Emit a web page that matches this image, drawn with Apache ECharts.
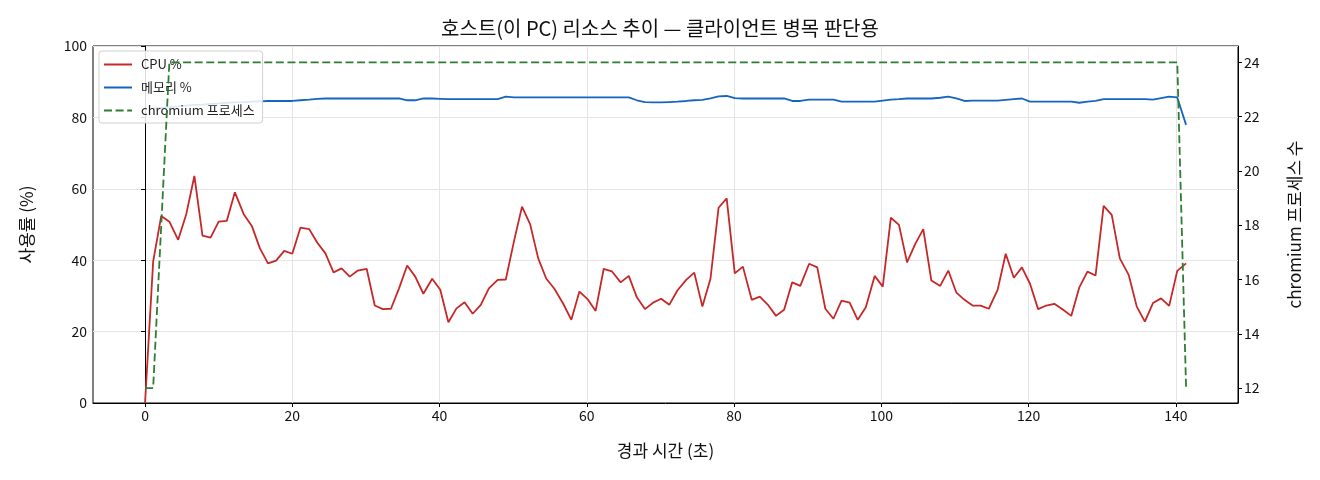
<!DOCTYPE html>
<html><head><meta charset="utf-8">
<script src="https://cdn.jsdelivr.net/npm/echarts@6/dist/echarts.min.js"></script>
<style>html,body{margin:0;padding:0;background:#fff}#c{width:1320px;height:480px}</style>
</head><body><div id="c"></div>
<script>
const times = [0,1.1,2.2,3.3,4.5,5.6,6.7,7.8,8.9,10.0,11.1,12.2,13.4,14.5,15.6,16.7,17.8,18.9,20.0,21.1,
22.3,23.4,24.5,25.6,26.7,27.8,28.9,30.1,31.2,32.3,33.4,34.5,35.6,36.7,37.8,39.0,40.1,41.2,42.3,43.4,
44.5,45.6,46.7,47.9,49.0,50.1,51.2,52.3,53.4,54.5,55.6,56.8,57.9,59.0,60.1,61.2,62.3,63.4,64.6,65.7,
66.8,67.9,69.0,70.1,71.2,72.3,73.5,74.6,75.7,76.8,77.9,79.0,80.1,81.2,82.4,83.5,84.6,85.7,86.8,87.9,
89.0,90.2,91.3,92.4,93.5,94.6,95.7,96.8,97.9,99.1,100.2,101.3,102.4,103.5,104.6,105.7,106.8,108.0,109.1,110.2,
111.3,112.4,113.5,114.6,115.8,116.9,118.0,119.1,120.2,121.3,122.4,123.5,124.7,125.8,126.9,128.0,129.1,130.2,131.3,132.4,
133.6,134.7,135.8,136.9,138.0,139.1,140.2,141.4];
const cpu = [0,39.6,52.4,50.8,45.7,52.9,63.6,46.9,46.3,50.8,
51.0,59.0,52.9,49.6,43.3,39.1,39.9,42.6,41.8,49.1,
48.7,44.9,41.9,36.6,37.7,35.4,37.1,37.6,27.3,26.3,
26.4,32.1,38.5,35.4,30.6,34.8,31.7,22.6,26.5,28.2,
25.0,27.5,32.1,34.5,34.6,45.2,55.0,50.1,40.5,34.8,
32.0,27.8,23.3,31.2,29.1,25.8,37.6,36.9,33.8,35.6,
29.6,26.3,28.1,29.2,27.5,31.5,34.5,36.5,27.0,34.8,
54.7,57.3,36.3,38.2,28.9,29.8,27.5,24.4,26.1,33.8,
32.8,39.0,38.0,26.4,23.6,28.7,28.1,23.3,26.8,35.6,
32.6,51.9,49.9,39.4,44.5,48.7,34.3,32.8,37.1,30.9,
28.9,27.3,27.3,26.4,31.7,41.8,35.1,38.0,33.4,26.3,
27.3,27.8,26.1,24.4,32.4,36.8,35.7,55.2,52.7,40.5,
35.9,27.0,22.8,28.0,29.3,27.2,37.0,39.1];
const mem = [null,82.5,82.7,82.9,83.1,83.3,83.5,83.6,83.8,83.9,
84.1,84.2,84.3,84.4,84.5,84.6,84.6,84.6,84.6,84.8,
85.0,85.2,85.3,85.3,85.3,85.3,85.3,85.3,85.3,85.3,
85.3,85.3,84.8,84.8,85.3,85.3,85.2,85.1,85.1,85.1,
85.1,85.1,85.1,85.1,85.8,85.6,85.6,85.6,85.6,85.6,
85.6,85.6,85.6,85.6,85.6,85.6,85.6,85.6,85.6,85.6,
84.8,84.3,84.2,84.2,84.3,84.4,84.6,84.8,84.9,85.3,
85.9,86.0,85.4,85.3,85.3,85.3,85.3,85.3,85.3,84.6,
84.6,85.0,85.0,85.0,85.0,84.4,84.4,84.4,84.4,84.4,
84.7,85.0,85.1,85.3,85.3,85.3,85.3,85.5,85.8,85.3,
84.6,84.7,84.7,84.7,84.7,84.9,85.1,85.3,84.4,84.4,
84.4,84.4,84.4,84.4,84.1,84.4,84.6,85.1,85.1,85.1,
85.1,85.1,85.1,85.0,85.4,85.8,85.6,77.9];
const procs = [12,12,18,24,24,24,24,24,24,24,
24,24,24,24,24,24,24,24,24,24,
24,24,24,24,24,24,24,24,24,24,
24,24,24,24,24,24,24,24,24,24,
24,24,24,24,24,24,24,24,24,24,
24,24,24,24,24,24,24,24,24,24,
24,24,24,24,24,24,24,24,24,24,
24,24,24,24,24,24,24,24,24,24,
24,24,24,24,24,24,24,24,24,24,
24,24,24,24,24,24,24,24,24,24,
24,24,24,24,24,24,24,24,24,24,
24,24,24,24,24,24,24,24,24,24,
24,24,24,24,24,24,24,12];
const xTicks = [0, 20, 40, 60, 80, 100, 120, 140];
const yLeftTicks = [0, 20, 40, 60, 80, 100];
const yRightTicks = [12, 14, 16, 18, 20, 22, 24];
const seriesNames = ['CPU %', '메모리 %', 'chromium 프로세스'];
const titleText = '호스트(이 PC) 리소스 추이 — 클라이언트 병목 판단용';
const xName = '경과 시간 (초)';
const yLeftName = '사용률 (%)';
const yRightName = 'chromium 프로세스 수';

const F = 'Noto Sans CJK KR, Noto Sans, sans-serif';
const pair = (arr) => times.map((t, i) => [t, arr[i]]);
const solidIcon = 'path://M0,0h28v2h-28z';
const dashIcon = 'path://M0,0h8v2h-8zM11.6,0h8v2h-8zM23.2,0h4.8v2h-4.8z';
const chart = echarts.init(document.getElementById('c'), null, {renderer: 'canvas'});
chart.setOption({
  animation: false,
  backgroundColor: '#fff',
  textStyle: {fontFamily: F},
  title: {text: titleText, left: 'center', top: 13,
    textStyle: {fontFamily: F, fontSize: 20, fontWeight: 'normal', color: '#111'}},
  legend: {
    orient: 'vertical', left: 99, top: 51,
    padding: [7, 8, 6, 5], itemGap: 10, itemWidth: 28, itemHeight: 14,
    backgroundColor: 'rgba(255,255,255,0.85)', borderColor: '#d0d0d0', borderWidth: 1, borderRadius: 3,
    textStyle: {fontFamily: F, fontSize: 13, color: '#222', padding: [0, 0, 0, 4]},
    data: [
      {name: seriesNames[0], icon: solidIcon},
      {name: seriesNames[1], icon: solidIcon},
      {name: seriesNames[2], icon: dashIcon}
    ]
  },
  grid: {left: 93, right: 82, top: 46, bottom: 77, show: true, borderColor: '#000', borderWidth: 1, backgroundColor: 'transparent'},
  xAxis: {
    type: 'value', min: -7.07, max: 148.45,
    name: xName, nameLocation: 'middle', nameGap: 39,
    nameTextStyle: {fontFamily: F, fontSize: 17, color: '#111'},
    axisLine: {show: true, onZero: false, lineStyle: {color: '#000', width: 1}},
    axisTick: {show: true, length: 4, customValues: xTicks, lineStyle: {color: '#000'}},
    axisLabel: {customValues: xTicks, fontFamily: F, fontSize: 14, color: '#111', margin: 6},
    splitLine: {show: true, lineStyle: {color: '#e5e5e5', width: 1}}
  },
  yAxis: [{
    type: 'value', min: 0, max: 100, interval: 20, position: 'left',
    name: yLeftName, nameLocation: 'middle', nameGap: 58, nameRotate: 90,
    nameTextStyle: {fontFamily: F, fontSize: 17, color: '#111'},
    axisLine: {show: true, lineStyle: {color: '#000', width: 1}},
    axisTick: {show: true, length: 4, customValues: yLeftTicks, lineStyle: {color: '#000'}},
    axisLabel: {customValues: yLeftTicks, fontFamily: F, fontSize: 14, color: '#111', margin: 6},
    splitLine: {show: true, lineStyle: {color: '#e5e5e5', width: 1}}
  }, {
    type: 'value', min: 11.45, max: 24.6, position: 'right', alignTicks: false,
    name: yRightName, nameLocation: 'middle', nameGap: 48, nameRotate: 90,
    nameTextStyle: {fontFamily: F, fontSize: 17, color: '#111'},
    axisLine: {show: true, lineStyle: {color: '#000', width: 1}},
    axisTick: {show: true, length: 4, customValues: yRightTicks, lineStyle: {color: '#000'}},
    axisLabel: {customValues: yRightTicks, fontFamily: F, fontSize: 14, color: '#111', margin: 6},
    splitLine: {show: false}
  }],
  series: [{
    name: seriesNames[0], type: 'line', data: pair(cpu), yAxisIndex: 0,
    showSymbol: false, symbol: 'none', color: '#c62828',
    lineStyle: {width: 1.8, color: '#c62828'}, z: 3
  }, {
    name: seriesNames[1], type: 'line', data: pair(mem), yAxisIndex: 0,
    showSymbol: false, symbol: 'none', color: '#1565c0',
    lineStyle: {width: 1.8, color: '#1565c0'}, z: 3
  }, {
    name: seriesNames[2], type: 'line', data: pair(procs), yAxisIndex: 1,
    showSymbol: false, symbol: 'none', color: '#2e7d32',
    lineStyle: {width: 1.8, color: '#2e7d32', type: [8, 3.6]}, z: 4
  }]
});
</script></body></html>
